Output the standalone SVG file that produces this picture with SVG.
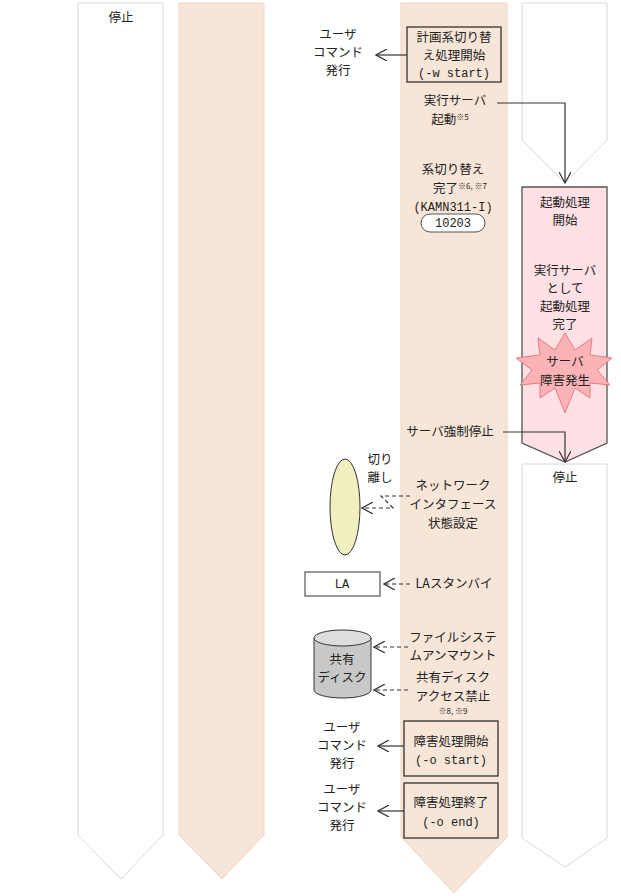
<svg xmlns="http://www.w3.org/2000/svg" width="621" height="896" viewBox="0 0 621 896">
<defs>
<marker id="a" markerWidth="12" markerHeight="12" refX="11" refY="6" orient="auto" markerUnits="userSpaceOnUse"><path d="M0,0 L11,6 L0,12" fill="none" stroke="#333" stroke-width="1.2"/></marker>
</defs>
<style>
text{font-family:"Noto Sans CJK JP","Liberation Sans",sans-serif;font-size:12.5px;fill:#222;text-anchor:middle}
.m{font-family:"Liberation Mono","Noto Sans CJK JP",monospace;font-size:12px}
.s{font-size:8px}
.w{fill:#fff;stroke:#d8d8d8}
.p{fill:#f7e6d8;stroke:#f0d4be}
.b{fill:none;stroke:#333;stroke-width:1.3}
.c{fill:none;stroke:#333;stroke-width:1.2;marker-end:url(#a)}
.d{stroke-dasharray:4,3}
</style>
<g id="lanes">
<path class="w" d="M78,3 H163 V835 L121,879 L78,835 Z"/>
<path class="p" d="M179,3 H264 V835 L222,879 L179,835 Z"/>
<path class="p" d="M401,3 H507 V837 L454,893 L401,837 Z"/>
<path class="w" d="M522,3 H607 V140 L565,183 L522,140 Z"/>
<path d="M522,187 H607 V443 L565,462 L522,443 Z" fill="#ffe1e5" stroke="#555" stroke-width="1.3"/>
<path class="w" d="M522,464 H607 V838 L565,867 L522,838 Z"/>
</g>
<text x="121" y="22">停止</text>
<text x="565" y="482">停止</text>
<g id="n1"><rect class="b" x="407" y="27" width="94" height="55" fill="#f7e6d8"/><text x="454" y="42">計画系切り替</text><text x="454" y="60">え処理開始</text><text class="m" x="454" y="77">(-w start)</text></g>
<g id="u1"><text x="338" y="39">ユーザ</text><text x="338" y="57">コマンド</text><text x="338" y="75">発行</text></g>
<g id="n2"><text x="455" y="105">実行サーバ</text><text x="450" y="124">起動<tspan class="s" dy="-4">※5</tspan></text></g>
<g id="n3"><text x="453" y="174">系切り替え</text><text x="460" y="193">完了<tspan class="s" dy="-4">※6, ※7</tspan></text><text class="m" x="453" y="211">(KAMN311-I)</text><rect x="421" y="214" width="64" height="18" rx="9" fill="#fff" stroke="#555"/><text class="m" x="453" y="227">10203</text></g>
<g id="n4"><text x="565" y="207">起動処理</text><text x="565" y="225">開始</text></g>
<g id="n5"><text x="565" y="275">実行サーバ</text><text x="565" y="293">として</text><text x="565" y="311">起動処理</text><text x="565" y="329">完了</text></g>
<g id="burst"><polygon points="565,333 575,350 592,338 590,355 612,358 597,370 610,385 590,383 590,398 575,388 565,413 555,388 540,398 540,383 520,385 532,370 516,358 540,355 538,338 555,350" fill="#fbb3b6" stroke="#e57a80"/><text x="565" y="366">サーバ</text><text x="565" y="385">障害発生</text></g>
<g id="n6"><text x="450" y="436">サーバ強制停止</text></g>
<g id="nic"><ellipse cx="345" cy="507" rx="15" ry="48" fill="#f0efc0" stroke="#333"/><text x="380" y="464">切り</text><text x="380" y="482">離し</text></g>
<g id="n7"><text x="453" y="490">ネットワーク</text><text x="453" y="509">インタフェース</text><text x="453" y="528">状態設定</text></g>
<g id="la"><rect x="305" y="572" width="75" height="24" fill="#fff" stroke="#333"/><text class="m" x="342" y="588">LA</text><text x="454" y="588">LAスタンバイ</text></g>
<g id="disk"><path d="M314,638 V690 A28.5,8 0 0 0 371,690 V638" fill="#c8c8c8" stroke="#333"/><ellipse cx="342.5" cy="638" rx="28.5" ry="8" fill="#ddd" stroke="#333"/><text x="342" y="664">共有</text><text x="342" y="682">ディスク</text></g>
<g id="n8"><text x="453" y="642">ファイルシステ</text><text x="453" y="660">ムアンマウント</text><text x="453" y="682">共有ディスク</text><text x="453" y="701">アクセス禁止</text><text class="s" x="453" y="714">※8, ※9</text></g>
<g id="n9"><rect class="b" x="404" y="721" width="94" height="55" fill="#f7e6d8"/><text x="451" y="746">障害処理開始</text><text class="m" x="451" y="764">(-o start)</text><text x="342" y="732">ユーザ</text><text x="342" y="750">コマンド</text><text x="342" y="768">発行</text></g>
<g id="n10"><rect class="b" x="404" y="783" width="94" height="55" fill="#f7e6d8"/><text x="451" y="807">障害処理終了</text><text class="m" x="451" y="826">(-o end)</text><text x="342" y="794">ユーザ</text><text x="342" y="812">コマンド</text><text x="342" y="830">発行</text></g>
<g id="connectors">
<path class="c" d="M407,55 H376"/>
<path class="c" d="M497,103 H565 V183"/>
<path class="c" d="M503,432 H565 V462"/>
<path class="c d" d="M410,496 H381 L393,508 H362"/>
<path class="c d" d="M410,584 H384"/>
<path class="c d" d="M408,647 H374"/>
<path class="c d" d="M408,690 H374"/>
<path class="c" d="M404,746 H378"/>
<path class="c" d="M404,811 H378"/>
</g>
</svg>
